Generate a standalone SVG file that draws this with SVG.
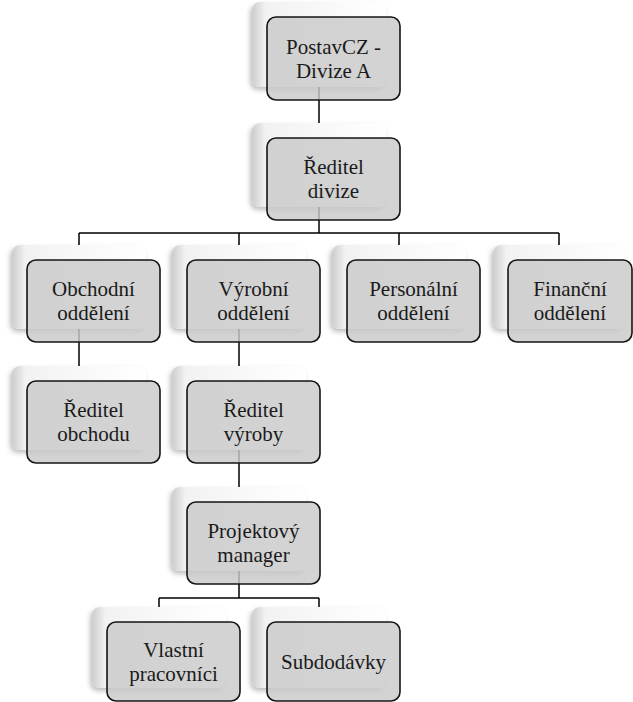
<svg xmlns="http://www.w3.org/2000/svg" width="633" height="702" viewBox="0 0 633 702">
  <defs>
    <!-- soft card face: grey on the left edge fading to white -->
    <linearGradient id="cardFace" x1="0" y1="0" x2="1" y2="0">
      <stop offset="0" stop-color="#cdcdcd"/>
      <stop offset="0.1" stop-color="#f2f2f2"/>
      <stop offset="1" stop-color="#ffffff"/>
    </linearGradient>
    <filter id="cardShadow" x="-20%" y="-20%" width="140%" height="150%">
      <feDropShadow dx="-2" dy="3" stdDeviation="2.5" flood-color="#000" flood-opacity="0.25"/>
    </filter>
  </defs>
  <style>
    .back{fill:url(#cardFace);filter:url(#cardShadow)}
    .front{fill:#c9c9c9;fill-opacity:0.82;stroke:#151515;stroke-width:1.6}
    .lbl{font-family:'Liberation Serif','Times New Roman',serif;font-size:21px;fill:#1a1a1a;text-anchor:middle}
    .conn{stroke:#000;stroke-width:1.5;fill:none}
  </style>
  <rect width="633" height="702" fill="#ffffff"/>

  <!-- connectors -->
  <g id="connectors" class="conn">
    <path d="M319 87V123"/>
    <path d="M319 207V233M79 233H559M79 233V245M239 233V245M399 233V245M559 233V245"/>
    <path d="M79 329V366"/>
    <path d="M239 329V366"/>
    <path d="M239 450V487"/>
    <path d="M239 571V598M159 598H319M159 598V607M319 598V607"/>
  </g>

  <g id="nodes">
  <g id="node-postavcz">
    <rect class="back" x="252" y="2" width="134" height="85" rx="8"/>
    <rect class="front" x="267" y="17" width="133" height="83" rx="9"/>
    <text class="lbl"><tspan x="333.5" y="53.5">PostavCZ -</tspan><tspan x="333.5" y="77.5">Divize A</tspan></text>
  </g>

  <g id="node-reditel-divize">
    <rect class="back" x="252" y="123" width="134" height="84" rx="8"/>
    <rect class="front" x="267" y="138" width="133" height="82" rx="9"/>
    <text class="lbl"><tspan x="333.5" y="174">Ředitel</tspan><tspan x="333.5" y="198">divize</tspan></text>
  </g>

  <g id="node-obchodni">
    <rect class="back" x="12" y="245" width="134" height="84" rx="8"/>
    <rect class="front" x="27" y="260" width="133" height="82" rx="9"/>
    <text class="lbl"><tspan x="93.5" y="296">Obchodní</tspan><tspan x="93.5" y="320">oddělení</tspan></text>
  </g>

  <g id="node-vyrobni">
    <rect class="back" x="172" y="245" width="134" height="84" rx="8"/>
    <rect class="front" x="187" y="260" width="133" height="82" rx="9"/>
    <text class="lbl"><tspan x="253.5" y="296">Výrobní</tspan><tspan x="253.5" y="320">oddělení</tspan></text>
  </g>

  <g id="node-personalni">
    <rect class="back" x="332" y="245" width="134" height="84" rx="8"/>
    <rect class="front" x="347" y="260" width="133" height="82" rx="9"/>
    <text class="lbl"><tspan x="413.5" y="296">Personální</tspan><tspan x="413.5" y="320">oddělení</tspan></text>
  </g>

  <g id="node-financni">
    <rect class="back" x="493" y="245" width="132" height="84" rx="8"/>
    <rect class="front" x="508" y="260" width="124" height="82" rx="9"/>
    <text class="lbl"><tspan x="570" y="296">Finanční</tspan><tspan x="570" y="320">oddělení</tspan></text>
  </g>

  <g id="node-reditel-obchodu">
    <rect class="back" x="12" y="366" width="134" height="84" rx="8"/>
    <rect class="front" x="27" y="381" width="133" height="82" rx="9"/>
    <text class="lbl"><tspan x="93.5" y="417">Ředitel</tspan><tspan x="93.5" y="441">obchodu</tspan></text>
  </g>

  <g id="node-reditel-vyroby">
    <rect class="back" x="172" y="366" width="134" height="84" rx="8"/>
    <rect class="front" x="187" y="381" width="133" height="82" rx="9"/>
    <text class="lbl"><tspan x="253.5" y="417">Ředitel</tspan><tspan x="253.5" y="441">výroby</tspan></text>
  </g>

  <g id="node-projektovy-manager">
    <rect class="back" x="172" y="487" width="134" height="84" rx="8"/>
    <rect class="front" x="187" y="502" width="133" height="82" rx="9"/>
    <text class="lbl"><tspan x="253.5" y="538">Projektový</tspan><tspan x="253.5" y="562">manager</tspan></text>
  </g>

  <g id="node-vlastni-pracovnici">
    <rect class="back" x="92" y="607" width="134" height="81" rx="8"/>
    <rect class="front" x="107" y="622" width="133" height="79" rx="9"/>
    <text class="lbl"><tspan x="173.5" y="656.5">Vlastní</tspan><tspan x="173.5" y="680.5">pracovníci</tspan></text>
  </g>

  <g id="node-subdodavky">
    <rect class="back" x="252" y="607" width="134" height="81" rx="8"/>
    <rect class="front" x="267" y="622" width="133" height="79" rx="9"/>
    <text class="lbl" x="333.5" y="668.5">Subdodávky</text>
  </g>
  </g>
</svg>
